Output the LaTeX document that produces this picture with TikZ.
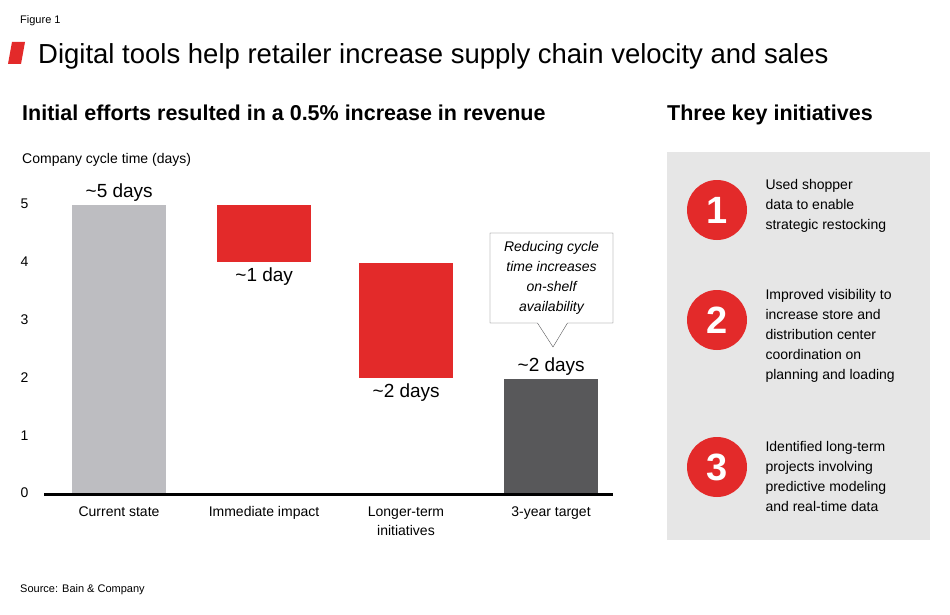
\documentclass[tikz,border=0pt]{standalone}
\usepackage{fontspec}
\setmainfont{Liberation Sans}
\usetikzlibrary{shapes.callouts}
\definecolor{bainred}{HTML}{E32A2A}
\definecolor{lightbar}{HTML}{BDBDC1}
\definecolor{darkbar}{HTML}{58585A}
\definecolor{panel}{HTML}{E6E6E6}
\tikzset{
  axislabel/.style={anchor=east, font=\fontsize{14}{16}\selectfont},
  catlabel/.style={anchor=north, align=center, font=\fontsize{14}{19}\selectfont},
  vallabel/.style={font=\fontsize{19}{22}\selectfont},
  bar/.style={anchor=north west, inner sep=0pt, minimum width=94pt},
  numdot/.style={circle, fill=bainred, minimum size=60pt, inner sep=0pt, text=white, font=\bfseries\fontsize{38}{38}\selectfont},
  initext/.style={anchor=west, align=left, font=\fontsize{14}{20}\selectfont}
}
\begin{document}
\begin{tikzpicture}[x=1pt, y=-1pt]
    \useasboundingbox (0,0) rectangle (950,615);
    % header
    \node [anchor=base west, inner sep=0pt, font=\fontsize{11}{12}\selectfont] (fig) at (20,24) {Figure 1};
    \fill [bainred] (12,42) -- (25,42) -- (21,64) -- (8,64) -- cycle;
    \node [anchor=base west, inner sep=0pt, font=\fontsize{27.5}{30}\selectfont] (title) at (38,64) {Digital tools help retailer increase supply chain velocity and sales};
    \node [anchor=base west, inner sep=0pt, font=\bfseries\fontsize{21.5}{24}\selectfont] (lefthead) at (22,121) {Initial efforts resulted in a 0.5\% increase in revenue};
    \node [anchor=base west, inner sep=0pt, font=\bfseries\fontsize{21.5}{24}\selectfont] (righthead) at (667,121) {Three key initiatives};
    \node [anchor=base west, inner sep=0pt, font=\fontsize{14}{16}\selectfont] (ytitle) at (22,164) {Company cycle time (days)};

    % axis
    \foreach \v in {0,...,5}
        \node [axislabel] (y\v) at (32,{493-57.8*\v}) {\v};

    % bars
    \node [bar, fill=lightbar, minimum height=289pt] (cur) at (72,205) {};
    \node [bar, fill=bainred, minimum height=57pt] (imm) at (217,205) {};
    \node [bar, fill=bainred, minimum height=115pt] (lon) at (359,263) {};
    \node [bar, fill=darkbar, minimum height=115pt] (tgt) at (504,379) {};
    \draw [line width=3pt] (44,494) -- (613,494);

    \node [vallabel, above=0pt] (curv) at (cur.north) {\textasciitilde5 days};
    \node [vallabel, below=2pt] (immv) at (imm.south) {\textasciitilde1 day};
    \node [vallabel, below=2pt] (lonv) at (lon.south) {\textasciitilde2 days};
    \node [vallabel, above=0pt] (tgtv) at (tgt.north) {\textasciitilde2 days};

    \node [catlabel] (curc) at (119,503) {Current state};
    \node [catlabel] (immc) at (264,503) {Immediate impact};
    \node [catlabel] (lonc) at (406,503) {Longer-term\\initiatives};
    \node [catlabel] (tgtc) at (551,503) {3-year target};

    % callout
    \node [rectangle callout, draw=darkbar, fill=white, minimum width=123pt, minimum height=90pt, align=center,
           callout pointer width=30pt,
           callout absolute pointer={(553,347)}, font=\itshape\fontsize{14}{20}\selectfont] (note) at (551.5,278) {Reducing cycle\\time increases\\on-shelf\\availability};

    % right panel
    \fill [panel] (667,152) rectangle (930,540);
    \node [numdot] (n1) at (717,210) {1};
    \node [numdot] (n2) at (717,320) {2};
    \node [numdot] (n3) at (717,467) {3};
    \node [initext] (t1) at (762,206) {Used shopper\\data to enable\\strategic restocking};
    \node [initext] (t2) at (762,336) {Improved visibility to\\increase store and\\distribution center\\coordination on\\planning and loading};
    \node [initext] (t3) at (762,476) {Identified long-term\\projects involving\\predictive modeling\\and real-time data};

    \node [anchor=base west, inner sep=0pt, font=\fontsize{11}{12}\selectfont] (src) at (20,592) {Source: Bain \& Company};
\end{tikzpicture}
\end{document}
